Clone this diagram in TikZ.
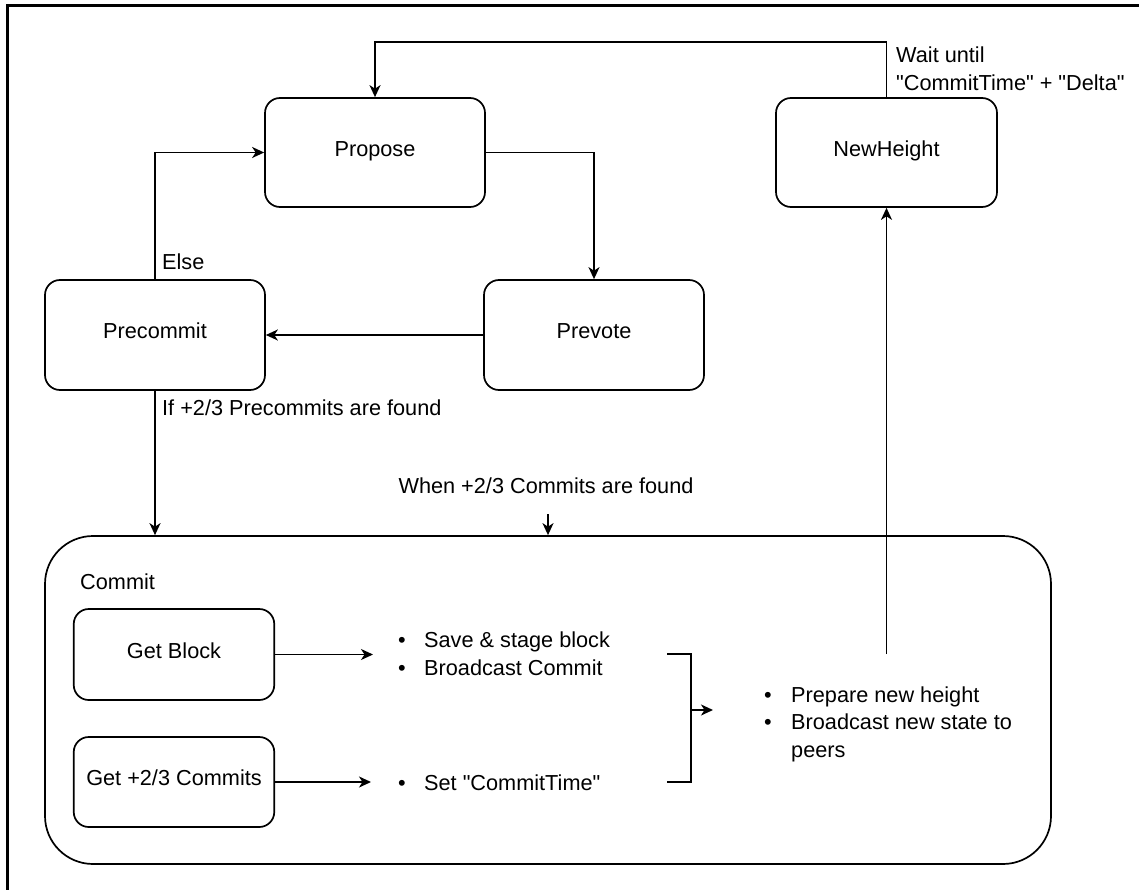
\documentclass[tikz,border=0pt]{standalone}
\usepackage{fontspec}
\setmainfont{Liberation Sans}
\usetikzlibrary{arrows.meta}
\newcommand\dfont{\fontsize{21.7}{27}\selectfont}
\newcommand\qq{\textquotedbl}
\tikzset{
  box/.style={draw, line width=1.7pt, rounded corners=15pt, inner sep=0pt,
    font=\dfont, text height=0.72em, text depth=0pt},
  arr/.style={line width=1.7pt, -{Stealth[length=12pt,width=11pt,inset=3.5pt]}},
  conn/.style={line width=1.7pt},
  lbl/.style={font=\dfont, inner sep=0pt, anchor=base west},
}
\begin{document}
\begin{tikzpicture}[x=1pt,y=-1pt]
\useasboundingbox (0,0) rectangle (1139,890);
% outer frame (only left and top edges visible)
\draw[line width=3pt] (7,890) -- (7,6) -- (1139,6);

% state boxes
\node[box, minimum width=220pt, minimum height=109pt] (propose) at (375,152.5) {Propose};
\node[box, minimum width=221pt, minimum height=109pt] (nh) at (886.5,152.5) {NewHeight};
\node[box, minimum width=220pt, minimum height=110pt] (pc) at (155,335) {Precommit};
\node[box, minimum width=220pt, minimum height=110pt] (pv) at (594,335) {Prevote};

% commit container
\node[draw, line width=1.7pt, rounded corners=48pt, minimum width=1006pt, minimum height=328pt, inner sep=0pt] (commit) at (548,700) {};
\node[lbl] (commitlbl) at (80,589) {Commit};
\node[box, minimum width=200.5pt, minimum height=91pt] (gb) at (174,654.5) {Get Block};
\node[box, minimum width=200.5pt, minimum height=90pt] (gc) at (174,782) {Get +2/3 Commits};

% bullet texts
\node[lbl] (b1) at (398,647) {•};
\node[lbl] (t1) at (424,647) {Save \& stage block};
\node[lbl] (b2) at (398,675) {•};
\node[lbl] (t2) at (424,675) {Broadcast Commit};
\node[lbl] (b3) at (398,790) {•};
\node[lbl] (t3) at (424,790) {Set \qq CommitTime\qq};
\node[lbl] (b4) at (764,702) {•};
\node[lbl] (t4) at (791,702) {Prepare new height};
\node[lbl] (b5) at (764,729.5) {•};
\node[lbl] (t5) at (791,729.5) {Broadcast new state to};
\node[lbl] (t6) at (791,757) {peers};

% labels
\node[lbl] (wait1) at (896,63) {Wait until};
\node[lbl] (wait2) at (896,91) {\qq CommitTime\qq{} + \qq Delta\qq};
\node[lbl] (else) at (162,270) {Else};
\node[lbl] (iflbl) at (162,415) {If +2/3 Precommits are found};
\node[font=\dfont, inner sep=0pt, anchor=base] (when) at (546,493) {When +2/3 Commits are found};

% connectors
\draw[arr] (nh.north) -- ++(0,-55) -| (propose.north);
\draw[arr] (pc.north) |- (propose.west);
\draw[arr] (propose.east) -| (pv.north);
\draw[arr] (pv.west) -- (pc.east);
\draw[arr] (pc.south) -- (pc.south |- commit.north);
\coordinate (wtop) at (548,514);
\draw[arr] (wtop) -- (wtop |- commit.north);

\coordinate (gbe) at (373,654.5);
\draw[arr] (gb.east) -- (gbe);
\coordinate (gce) at (371,782);
\draw[arr] (gc.east) -- (gce);

\coordinate (bt) at (667,654);
\coordinate (bb) at (667,782);
\draw[conn] (bt) -- ++(24,0) |- (bb);
\coordinate (bm) at (691,710);
\coordinate (bme) at (713,710);
\draw[arr] (bm) -- (bme);

\coordinate (up) at (886.5,654);
\draw[arr] (up) -- (nh.south);
\end{tikzpicture}
\end{document}
